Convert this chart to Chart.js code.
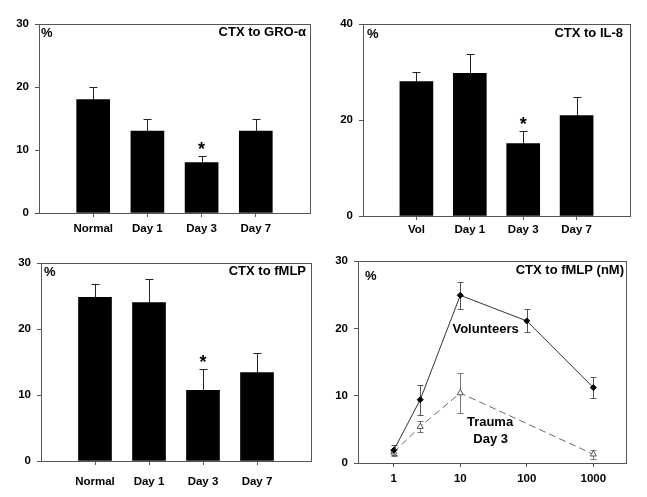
<!DOCTYPE html>
<html>
<head>
<meta charset="utf-8">
<script src="https://cdn.jsdelivr.net/npm/chart.js@4.4.1/dist/chart.umd.min.js"></script>
<style>
  body { margin: 0; background: #fff; }
  #wrap { position: relative; width: 647px; height: 497px; overflow: hidden; }
  canvas { position: absolute; }
</style>
</head>
<body>
<div id="wrap">
  <canvas id="c1" width="323" height="248" style="left:0;top:0"></canvas>
  <canvas id="c2" width="324" height="248" style="left:323px;top:0"></canvas>
  <canvas id="c3" width="323" height="249" style="left:0;top:248px"></canvas>
  <canvas id="c4" width="324" height="249" style="left:323px;top:248px"></canvas>
</div>
<script>
// values
const groCategories = ['Normal', 'Day 1', 'Day 3', 'Day 7'];
const groValues = [18, 13, 8, 13];
const groErrors = [2, 2, 1, 2];
const groTicks = [0, 10, 20, 30];

const il8Categories = ['Vol', 'Day 1', 'Day 3', 'Day 7'];
const il8Values = [28, 29.7, 15.1, 20.9];
const il8Errors = [2.1, 4, 2.7, 3.9];
const il8Ticks = [0, 20, 40];

const fmlpCategories = ['Normal', 'Day 1', 'Day 3', 'Day 7'];
const fmlpValues = [24.8, 24, 10.7, 13.4];
const fmlpErrors = [2, 3.6, 3.3, 2.9];
const fmlpTicks = [0, 10, 20, 30];

const doseNM = [1, 2.5, 10, 100, 1000];
const volunteerValues = [1.9, 9.4, 24.9, 21.1, 11.2];
const volunteerErrors = [0.7, 2.2, 2, 1.7, 1.6];
const traumaDoseNM = [1, 2.5, 10, 1000];
const traumaValues = [1.6, 5.4, 10.4, 1.3];
const traumaErrors = [0.5, 0.8, 3, 0.7];
const doseTicks = [1, 10, 100, 1000];
const doseYTicks = [0, 10, 20, 30];

const starIndex = 2; // Day 3 marked significant

const FONT = '"Liberation Sans", Arial, sans-serif';
const AXIS = '#555';

// box round the plot area
const frame = {
  id: 'frame',
  afterDraw(chart) {
    const { ctx, chartArea: a } = chart;
    ctx.save();
    ctx.strokeStyle = AXIS;
    ctx.lineWidth = 1;
    ctx.strokeRect(Math.round(a.left) + 0.5, Math.round(a.top) + 0.5,
      Math.round(a.right - a.left), Math.round(a.bottom - a.top));
    ctx.restore();
  }
};

const errorBars = {
  id: 'errorBars',
  beforeDatasetsDraw(chart) {
    const ctx = chart.ctx;
    const xs = chart.scales.x, ys = chart.scales.y;
    chart.data.datasets.forEach(ds => {
      if (!ds.errors) return;
      ctx.save();
      ctx.strokeStyle = ds.errorColor || '#222';
      ctx.lineWidth = 1;
      const cap = ds.capWidth || 4;
      ds.data.forEach((p, i) => {
        const x = Math.round(xs.getPixelForValue(p.x)) + 0.5;
        const top = Math.round(ys.getPixelForValue(p.y + ds.errors[i])) + 0.5;
        const bottom = Math.round(ys.getPixelForValue(ds.bothWays ? p.y - ds.errors[i] : p.y)) + 0.5;
        ctx.beginPath();
        ctx.moveTo(x, bottom);
        ctx.lineTo(x, top);
        ctx.moveTo(x - cap, top);
        ctx.lineTo(x + cap, top);
        if (ds.bothWays) {
          ctx.moveTo(x - cap, bottom);
          ctx.lineTo(x + cap, bottom);
        }
        ctx.stroke();
      });
      ctx.restore();
    });
  }
};

const panelText = {
  id: 'panelText',
  afterDraw(chart, args, opts) {
    const { ctx, chartArea: a } = chart;
    ctx.save();
    ctx.fillStyle = '#000';
    ctx.font = 'bold 13px ' + FONT;
    ctx.textBaseline = 'middle';
    ctx.textAlign = 'right';
    ctx.fillText(opts.title, a.right - opts.titleDx, a.top + opts.titleDy);
    ctx.textAlign = 'left';
    ctx.fillText('%', a.left + opts.pctDx, a.top + opts.pctDy);

    if (opts.star) {
      const ds = chart.data.datasets[0];
      const p = ds.data[starIndex];
      const x = chart.scales.x.getPixelForValue(p.x);
      const y = chart.scales.y.getPixelForValue(p.y + ds.errors[starIndex]);
      ctx.font = 'bold 18px ' + FONT;
      ctx.textAlign = 'center';
      ctx.textBaseline = 'alphabetic';
      ctx.fillText('*', x, y - 1);
    }
    (opts.notes || []).forEach(n => {
      ctx.font = 'bold 13px ' + FONT;
      ctx.textAlign = 'center';
      ctx.textBaseline = 'middle';
      ctx.fillText(n.text, chart.scales.x.getPixelForValue(n.x), chart.scales.y.getPixelForValue(n.y));
    });
    ctx.restore();
  }
};

function yScale(ticks, box) {
  return {
    min: ticks[0],
    max: ticks[ticks.length - 1],
    afterBuildTicks: s => { s.ticks = ticks.map(v => ({ value: v })); },
    afterFit: s => { s.width = box.left; },
    ticks: { color: '#000', font: { family: FONT, size: 11.5, weight: 'bold' }, padding: 6 },
    grid: { drawOnChartArea: false, tickLength: 4, color: AXIS },
    border: { color: AXIS }
  };
}

function barPanel(id, cats, values, errors, ticks, box, text) {
  new Chart(document.getElementById(id), {
    type: 'bar',
    data: {
      datasets: [{
        data: values.map((v, i) => ({ x: i + 1, y: v })),
        errors: errors,
        backgroundColor: '#000',
        barThickness: 33
      }]
    },
    options: {
      responsive: false,
      animation: false,
      layout: { padding: { top: box.top, right: box.right, left: 0, bottom: 0 } },
      plugins: { legend: { display: false }, tooltip: { enabled: false }, panelText: text },
      scales: {
        x: {
          type: 'linear',
          offset: false,
          min: 0,
          max: cats.length + 1,
          afterBuildTicks: s => { s.ticks = cats.map((c, i) => ({ value: i + 1 })); },
          afterFit: s => { s.height = box.xh; },
          ticks: {
            callback: v => cats[v - 1],
            color: '#000',
            maxRotation: 0,
            font: { family: FONT, size: 11.5, weight: 'bold' },
            padding: box.xpad
          },
          grid: { offset: false, drawOnChartArea: false, tickLength: 4, color: AXIS },
          border: { color: AXIS }
        },
        y: yScale(ticks, box)
      }
    },
    plugins: [frame, errorBars, panelText]
  });
}

barPanel('c1', groCategories, groValues, groErrors, groTicks,
  { left: 39, right: 13, top: 24, xh: 35, xpad: 5 },
  { title: 'CTX to GRO-\u03b1', titleDx: 4, titleDy: 8, pctDx: 2, pctDy: 9, star: true });

barPanel('c2', il8Categories, il8Values, il8Errors, il8Ticks,
  { left: 40, right: 17, top: 24, xh: 32, xpad: 3 },
  { title: 'CTX to IL-8', titleDx: 7, titleDy: 9, pctDx: 4, pctDy: 10, star: true });

barPanel('c3', fmlpCategories, fmlpValues, fmlpErrors, fmlpTicks,
  { left: 41, right: 12, top: 15, xh: 36, xpad: 10 },
  { title: 'CTX to fMLP', titleDx: 5, titleDy: 8, pctDx: 3, pctDy: 9, star: true });

// dose response, log x
const box4 = { left: 35, right: 21, top: 13, xh: 34 };
new Chart(document.getElementById('c4'), {
  type: 'line',
  data: {
    datasets: [
      {
        data: doseNM.map((d, i) => ({ x: d, y: volunteerValues[i] })),
        errors: volunteerErrors,
        bothWays: true,
        capWidth: 3,
        errorColor: '#555',
        borderColor: '#333',
        borderWidth: 1,
        pointStyle: 'rectRot',
        pointRadius: 3,
        pointBackgroundColor: '#000',
        pointBorderColor: '#000'
      },
      {
        data: traumaDoseNM.map((d, i) => ({ x: d, y: traumaValues[i] })),
        errors: traumaErrors,
        bothWays: true,
        capWidth: 3,
        errorColor: '#777',
        borderColor: '#666',
        borderWidth: 1,
        borderDash: [7, 4],
        pointStyle: 'triangle',
        pointRadius: 3.5,
        pointBackgroundColor: '#fff',
        pointBorderColor: '#555',
        pointBorderWidth: 1
      }
    ]
  },
  options: {
    responsive: false,
    animation: false,
    layout: { padding: { top: box4.top, right: box4.right, left: 0, bottom: 0 } },
    plugins: {
      legend: { display: false },
      tooltip: { enabled: false },
      panelText: {
        title: 'CTX to fMLP (nM)', titleDx: 2, titleDy: 9, pctDx: 7, pctDy: 15,
        notes: [
          { text: 'Volunteers', x: 24, y: 19.9 },
          { text: 'Trauma', x: 28, y: 6 },
          { text: 'Day 3', x: 28.6, y: 3.5 }
        ]
      }
    },
    scales: {
      x: {
        type: 'logarithmic',
        min: 0.29,
        max: 3100,
        afterBuildTicks: s => { s.ticks = doseTicks.map(v => ({ value: v })); },
        afterFit: s => { s.height = box4.xh; },
        ticks: {
          callback: v => String(v),
          color: '#000',
          maxRotation: 0,
          font: { family: FONT, size: 11.5, weight: 'bold' },
          padding: 5
        },
        grid: { drawOnChartArea: false, tickLength: 4, color: AXIS },
        border: { color: AXIS }
      },
      y: yScale(doseYTicks, box4)
    }
  },
  plugins: [frame, errorBars, panelText]
});
</script>
</body>
</html>
